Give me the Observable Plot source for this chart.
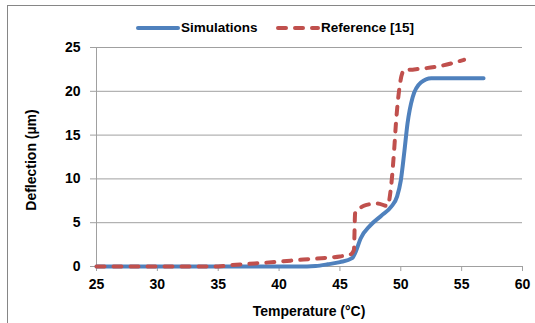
<!DOCTYPE html>
<html><head><meta charset="utf-8">
<script src="https://cdn.jsdelivr.net/npm/d3@7"></script>
<script src="https://cdn.jsdelivr.net/npm/@observablehq/plot@0.6"></script>
<style>
body{margin:0;background:#fff;}
#wrap{position:relative;width:535px;height:323px;overflow:hidden;font-family:"Liberation Sans",Arial,sans-serif;font-weight:bold;color:#000;}
#frame{position:absolute;left:7px;top:5px;width:700px;height:500px;border:1px solid #868686;box-sizing:border-box;}
#chart{position:absolute;left:0;top:0;}
.leg{position:absolute;top:19px;font-size:13.5px;line-height:18px;display:flex;align-items:center;}
.title{position:absolute;font-size:14px;white-space:nowrap;}
</style></head>
<body>
<div id="wrap">
  <div id="frame"></div>
  <div id="chart"></div>
  <div class="leg" id="leg1" style="left:136px"></div>
  <div class="leg" id="leg2" style="left:276px"></div>
  <div class="title" id="xt" style="left:309px;top:311px;transform:translate(-50%,-50%)">Temperature (°C)</div>
  <div class="title" id="yt" style="left:31px;top:160px;transform:translate(-50%,-50%) rotate(-90deg)">Deflection (µm)</div>
</div>
<script>
const seriesNames = ["Simulations", "Reference [15]"];
const seriesColors = ["#4f81bd", "#c0504d"];
const xTicks = [25, 30, 35, 40, 45, 50, 55, 60];
const yTicks = [0, 5, 10, 15, 20, 25];

const simTemp = [25, 35, 42.3, 43, 44, 45, 46, 46.3, 46.7, 47.5, 48.4, 49.2, 49.7, 50.0, 50.3, 50.55, 50.97, 51.65, 52.5, 54, 56.8];
const simDefl = [0, 0, 0, 0.05, 0.25, 0.5, 0.95, 1.7, 3.2, 4.7, 5.8, 6.8, 8.0, 9.8, 13.2, 16.3, 19.3, 21.0, 21.5, 21.5, 21.5];

const refTemp = [25, 35, 36, 38, 40, 42, 44, 45, 45.9, 46.15, 46.25, 46.55, 47.0, 48.1, 48.9, 49.2, 49.45, 49.6, 49.86, 50.27, 51.1, 53.3, 55.2];
const refDefl = [0, 0, 0.15, 0.35, 0.55, 0.8, 1.0, 1.15, 1.4, 1.9, 6.1, 6.55, 6.95, 7.2, 6.9, 9.1, 13.2, 16.3, 20.1, 22.4, 22.5, 22.9, 23.6];

const sim = simTemp.map((t, i) => ({t, v: simDefl[i]}));
const ref = refTemp.map((t, i) => ({t, v: refDefl[i]}));

const gray = "#a0a0a0";
const chart = Plot.plot({
  width: 535, height: 323,
  marginLeft: 96, marginRight: 13, marginTop: 47, marginBottom: 57,
  x: {domain: [25, 60]},
  y: {domain: [0, 25]},
  style: {fontFamily: '"Liberation Sans", Arial, sans-serif', background: "transparent"},
  marks: [
    Plot.gridY(yTicks.filter(d => d > 0), {stroke: gray, strokeOpacity: 1, strokeWidth: 1}),
    Plot.ruleY([0], {stroke: gray}),
    Plot.ruleX([25], {stroke: gray}),
    Plot.axisY(yTicks, {tickSize: 6, tickPadding: 10, stroke: gray, fill: "#000", fontSize: 14, fontWeight: "bold", label: null}),
    Plot.axisX(xTicks, {tickSize: 5, tickPadding: 8, stroke: gray, fill: "#000", fontSize: 14, fontWeight: "bold", label: null}),
    Plot.line(sim, {x: "t", y: "v", stroke: seriesColors[0], strokeWidth: 4, curve: "monotone-x", strokeLinecap: "round", strokeLinejoin: "round"}),
    Plot.line(ref, {x: "t", y: "v", stroke: seriesColors[1], strokeWidth: 4, curve: "monotone-x", strokeDasharray: "8,9", strokeLinecap: "round", strokeLinejoin: "round"})
  ]
});
document.getElementById("chart").appendChild(chart);

function legendItem(el, i) {
  const dash = i === 1 ? ' stroke-dasharray="8,9"' : '';
  el.innerHTML = `<svg width="44" height="10" style="margin-right:1px"><line x1="2" y1="5" x2="42" y2="5" stroke="${seriesColors[i]}" stroke-width="4" stroke-linecap="round"${dash}/></svg><span>${seriesNames[i]}</span>`;
}
legendItem(document.getElementById("leg1"), 0);
legendItem(document.getElementById("leg2"), 1);
</script>
</body></html>
